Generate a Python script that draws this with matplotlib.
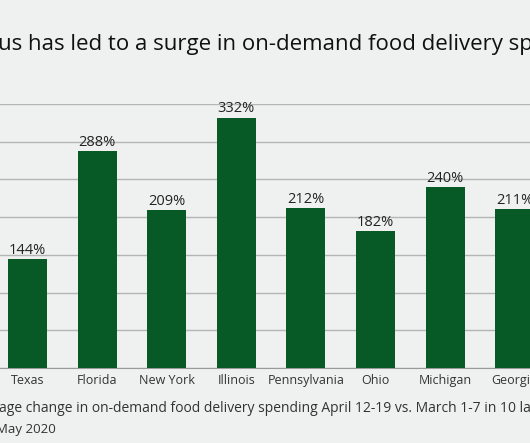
import matplotlib.pyplot as plt

states = ["Texas", "Florida", "New York", "Illinois", "Pennsylvania", "Ohio", "Michigan", "Georgia"]
growth = [144, 288, 209, 332, 212, 182, 240, 211]
yticks = [0, 50, 100, 150, 200, 250, 300, 350]

bg = "#eff1f0"
green = "#075a26"

plt.rcParams['font.family'] = ['Open Sans', 'DejaVu Sans']

fig = plt.figure(figsize=(5.3, 4.43), dpi=100)
fig.patch.set_facecolor(bg)
ax = fig.add_axes([0, 0.1693, 1, 0.596])
ax.set_facecolor(bg)

x = list(range(len(states)))
ax.bar(x, growth, width=0.56, color=green, zorder=3)
for xi, v in zip(x, growth):
    ax.text(xi, v + 1.5, f"{v}%", ha="center", va="bottom", fontsize=10.5,
            color="#222222", zorder=4)

ax.set_xlim(-0.395, 7.22)
ax.set_ylim(0, 350)
ax.set_yticks(yticks)
ax.yaxis.grid(True, color="#b4b6b5", linewidth=1, zorder=0)
ax.tick_params(axis="y", left=False, labelleft=False)
ax.tick_params(axis="x", length=0, pad=4, labelsize=9, labelcolor="#333333")
ax.set_xticks(x)
ax.set_xticklabels(states)
for s in ["top", "right", "left"]:
    ax.spines[s].set_visible(False)
ax.spines["bottom"].set_color("#999999")

# title and notes are cropped at the edges, as in the source image
fig.text(-0.004, 0.899, "us has led to a surge in on-demand food delivery spending",
         fontsize=16, color="#111111", ha="left", va="center")
fig.text(-0.002, 0.079, "age change in on-demand food delivery spending April 12-19 vs. March 1-7 in 10 largest states",
         fontsize=10, color="#333333", ha="left", va="center")
fig.text(-0.008, 0.030, "May 2020", fontsize=9.5, color="#333333", ha="left", va="center")

fig.savefig("out.png", dpi=100, facecolor=bg)
